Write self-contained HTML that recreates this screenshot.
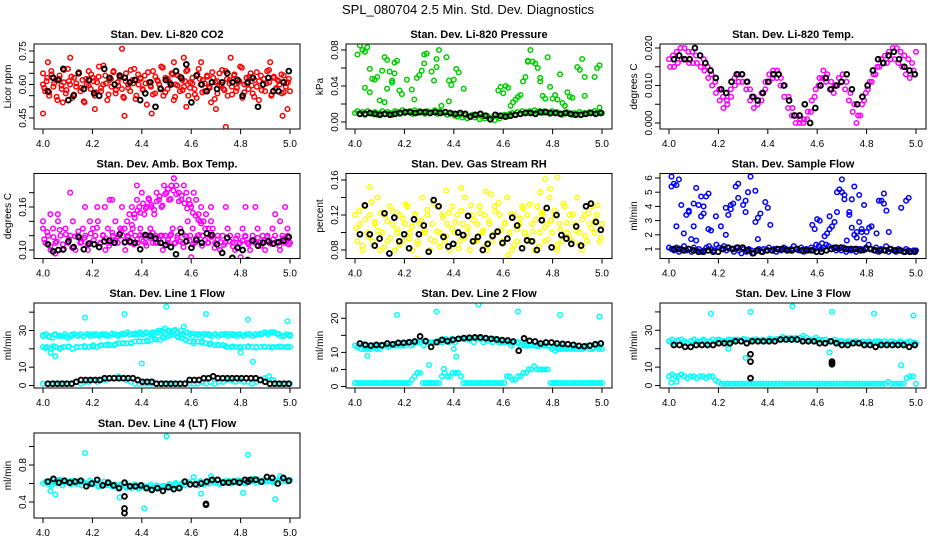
<!DOCTYPE html>
<html><head><meta charset="utf-8">
<style>
html,body{margin:0;padding:0;background:#fff;}
svg{display:block;font-family:"Liberation Sans",Arial,sans-serif;}
</style></head>
<body>
<svg id="chart" width="936" height="540" viewBox="0 0 936 540">
<text x="468" y="14" text-anchor="middle" font-size="13">SPL_080704  2.5 Min. Std. Dev. Diagnostics</text>
</svg>
<script>
// ---------- data ----------
const xTicks = [4.0,4.2,4.4,4.6,4.8,5.0];
const xTickLabels = ["4.0","4.2","4.4","4.6","4.8","5.0"];

const co2Red = [0.60,0.57,0.63,0.55,0.66,0.59,0.62,0.53,0.64,0.58,0.61,0.56,0.67,0.60,0.54,0.63,0.59,0.65,0.57,0.62,0.52,0.60,0.66,0.58,0.63,0.55,0.61,0.68,0.57,0.60,0.64,0.53,0.62,0.59,0.66,0.56,0.61,0.63,0.58,0.54,0.65,0.60,0.57,0.62,0.67,0.55,0.60,0.63,0.58,0.64,0.51,0.61,0.59,0.66,0.56,0.62,0.60,0.68,0.55,0.63,0.58,0.61,0.65,0.53,0.60,0.64,0.57,0.62,0.59,0.66,0.55,0.61,0.63,0.58,0.54,0.67,0.60,0.62,0.57,0.64,0.59,0.52,0.63,0.61,0.56,0.65,0.60,0.58,0.66,0.55,0.62,0.59,0.64,0.57,0.61,0.68,0.54,0.60,0.63,0.58,0.65,0.56,0.62,0.59,0.53,0.64,0.60,0.57,0.66,0.61,0.55,0.63,0.58,0.62,0.60,0.56,0.64,0.59,0.61,0.57];
const co2Red2 = [0.585,0.615,0.565,0.645,0.605,0.545,0.625,0.595,0.665,0.575,0.615,0.635,0.555,0.605,0.655,0.585,0.525,0.625,0.595,0.645,0.615,0.565,0.635,0.585,0.685,0.605,0.555,0.625,0.655,0.575,0.595,0.635,0.545,0.615,0.585,0.665,0.605,0.535,0.645,0.625,0.575,0.605,0.655,0.595,0.555,0.635,0.615,0.585,0.675,0.565,0.625,0.605,0.645,0.545,0.595,0.635,0.575,0.615,0.665,0.585,0.605,0.555,0.645,0.625,0.565,0.605,0.635,0.585,0.655,0.535,0.615,0.595,0.665,0.575,0.625,0.605,0.555,0.645,0.585,0.615,0.675,0.565,0.605,0.635,0.595,0.545,0.655,0.615,0.575,0.625,0.605,0.665,0.555,0.635,0.585,0.615,0.645,0.565,0.605,0.625];
const co2RedOut = [[4.32,0.76],[4.11,0.72],[4.57,0.72],[4.76,0.72],[4.74,0.41],[4.00,0.47],[4.44,0.47],[4.33,0.46],[4.97,0.46],[4.99,0.49],[4.70,0.49],[4.21,0.49],[4.02,0.70],[4.64,0.70],[4.92,0.70],[4.53,0.70],[4.00,0.65],[4.58,0.50],[4.08,0.52]];
const co2Black = [0.57,0.63,0.62,0.67,0.53,0.55,0.65,0.58,0.62,0.56,0.55,0.67,0.63,0.60,0.64,0.63,0.61,0.62,0.53,0.56,0.61,0.50,0.58,0.62,0.60,0.66,0.63,0.69,0.52,0.64,0.60,0.57,0.61,0.58,0.61,0.65,0.61,0.62,0.55,0.61,0.63,0.50,0.60,0.63,0.57,0.57,0.61,0.66];

const presGreen = [0.010,0.012,0.009,0.011,0.008,0.012,0.010,0.009,0.011,0.008,0.010,0.012,0.009,0.011,0.010,0.008,0.012,0.011,0.009,0.013,0.010,0.011,0.012,0.009,0.013,0.010,0.012,0.011,0.009,0.012,0.010,0.011,0.013,0.009,0.012,0.010,0.011,0.008,0.010,0.009,0.007,0.006,0.008,0.005,0.007,0.004,0.006,0.008,0.005,0.007,0.003,0.006,0.004,0.007,0.003,0.005,0.002,0.006,0.004,0.007,0.008,0.006,0.009,0.010,0.008,0.011,0.009,0.012,0.010,0.011,0.012,0.010,0.013,0.011,0.012,0.010,0.012,0.011,0.009,0.012,0.010,0.011,0.009,0.008,0.010,0.011,0.009,0.008,0.010,0.009,0.011,0.008,0.010,0.009,0.011,0.010,0.012,0.010,0.011,0.010];
const presHigh = [[4.01,0.075],[4.02,0.085],[4.03,0.080],[4.04,0.078],[4.05,0.083],[4.06,0.059],[4.07,0.048],[4.08,0.047],[4.09,0.050],[4.04,0.038],[4.06,0.033],[4.10,0.024],[4.11,0.057],[4.12,0.022],[4.13,0.037],[4.12,0.072],[4.13,0.069],[4.14,0.056],[4.15,0.046],[4.15,0.044],[4.16,0.054],[4.16,0.066],[4.17,0.068],[4.18,0.035],[4.19,0.031],[4.21,0.047],[4.23,0.036],[4.24,0.025],[4.25,0.049],[4.26,0.052],[4.27,0.057],[4.28,0.075],[4.29,0.076],[4.28,0.065],[4.31,0.056],[4.32,0.046],[4.33,0.061],[4.33,0.070],[4.34,0.080],[4.35,0.018],[4.37,0.072],[4.38,0.046],[4.38,0.023],[4.39,0.041],[4.40,0.047],[4.41,0.059],[4.42,0.055],[4.44,0.037],[4.58,0.035],[4.59,0.039],[4.60,0.032],[4.61,0.040],[4.62,0.038],[4.63,0.018],[4.64,0.022],[4.65,0.025],[4.66,0.028],[4.67,0.030],[4.68,0.045],[4.69,0.050],[4.70,0.067],[4.70,0.068],[4.71,0.080],[4.72,0.067],[4.73,0.065],[4.74,0.060],[4.75,0.049],[4.75,0.045],[4.76,0.029],[4.77,0.026],[4.78,0.072],[4.79,0.039],[4.80,0.026],[4.81,0.030],[4.82,0.025],[4.83,0.053],[4.84,0.021],[4.85,0.018],[4.86,0.033],[4.87,0.028],[4.88,0.027],[4.90,0.061],[4.91,0.058],[4.92,0.070],[4.93,0.050],[4.93,0.029],[4.97,0.050],[4.98,0.060],[4.99,0.063],[4.99,0.016]];
const presBlack = [0.009,0.009,0.010,0.009,0.008,0.009,0.008,0.009,0.010,0.011,0.011,0.010,0.011,0.011,0.010,0.011,0.010,0.011,0.010,0.009,0.010,0.009,0.006,0.008,0.009,0.007,0.003,0.008,0.007,0.006,0.007,0.008,0.009,0.010,0.010,0.009,0.011,0.011,0.010,0.010,0.009,0.010,0.009,0.008,0.008,0.009,0.010,0.009,0.010];

const tempMagHi = [0.017,0.018,0.019,0.020,0.020,0.019,0.019,0.018,0.018,0.017,0.015,0.013,0.011,0.009,0.007,0.006,0.009,0.012,0.013,0.013,0.011,0.009,0.007,0.006,0.008,0.011,0.013,0.014,0.014,0.012,0.010,0.007,0.004,0.002,0.001,0.001,0.003,0.006,0.009,0.012,0.014,0.013,0.011,0.010,0.012,0.013,0.011,0.008,0.005,0.002,0.005,0.008,0.011,0.013,0.015,0.017,0.018,0.019,0.020,0.020,0.019,0.018,0.017,0.016,0.019];
const tempMagLo = [0.015,0.015,0.016,0.017,0.017,0.016,0.016,0.016,0.015,0.014,0.012,0.010,0.008,0.006,0.004,0.005,0.007,0.010,0.011,0.011,0.009,0.006,0.004,0.005,0.006,0.009,0.011,0.012,0.012,0.010,0.007,0.004,0.002,0.000,0.000,0.000,0.001,0.003,0.007,0.010,0.012,0.011,0.009,0.008,0.010,0.011,0.009,0.006,0.003,0.000,0.002,0.006,0.009,0.011,0.013,0.015,0.016,0.016,0.017,0.017,0.016,0.015,0.013,0.012,0.014];
const tempBlack = [0.017,0.018,0.017,0.017,0.020,0.018,0.016,0.014,0.012,0.009,0.008,0.011,0.013,0.013,0.011,0.007,0.006,0.008,0.011,0.013,0.013,0.010,0.006,0.002,0.002,0.005,0.000,0.004,0.010,0.012,0.009,0.010,0.011,0.013,0.009,0.005,0.007,0.010,0.014,0.017,0.016,0.018,0.019,0.017,0.015,0.014,0.013];

const ambMag = [0.13,0.11,0.12,0.10,0.13,0.11,0.14,0.12,0.10,0.13,0.11,0.12,0.14,0.10,0.12,0.11,0.13,0.12,0.10,0.11,0.13,0.12,0.14,0.11,0.12,0.10,0.13,0.11,0.12,0.14,0.11,0.13,0.12,0.10,0.12,0.11,0.13,0.12,0.11,0.13,0.12,0.11,0.12,0.13,0.11,0.12,0.11,0.12,0.10,0.12,0.11,0.12,0.13,0.11,0.12,0.13,0.11,0.12,0.14,0.12,0.13,0.11,0.12,0.14,0.12,0.13,0.11,0.12,0.13,0.11,0.12,0.10,0.12,0.11,0.13,0.12,0.11,0.10,0.12,0.11,0.13,0.12,0.11,0.10,0.12,0.11,0.13,0.11,0.12,0.10,0.12,0.11,0.13,0.12,0.11,0.10,0.12,0.11,0.12,0.11];
const ambMag2 = [0.115,0.125,0.105,0.118,0.112,0.128,0.108,0.122,0.115,0.103,0.119,0.126,0.111,0.117,0.107,0.123,0.114,0.131,0.109,0.121,0.116,0.106,0.124,0.113,0.119,0.127,0.110,0.118,0.123,0.108,0.115,0.121,0.112,0.106,0.117,0.124,0.110,0.115,0.120,0.107,0.114,0.122,0.109,0.117,0.112,0.104,0.119,0.113,0.108,0.116,0.121,0.106,0.114,0.110,0.118,0.103,0.115,0.111,0.107,0.117,0.112,0.105,0.116,0.109,0.113,0.119,0.108,0.114,0.111,0.117,0.106,0.113,0.118,0.109,0.115,0.111,0.106,0.116,0.112,0.108];
const ambHump = [0.13,0.14,0.15,0.16,0.15,0.17,0.16,0.18,0.15,0.16,0.17,0.16,0.15,0.18,0.17,0.16,0.19,0.18,0.17,0.19,0.20,0.19,0.18,0.17,0.19,0.18,0.17,0.16,0.18,0.17,0.15,0.16,0.14,0.15,0.13,0.14];
const ambHump2 = [0.135,0.145,0.155,0.152,0.165,0.158,0.172,0.163,0.156,0.168,0.175,0.162,0.178,0.185,0.171,0.183,0.178,0.168,0.176,0.165,0.158,0.164,0.152,0.148,0.142,0.137];
const ambOut = [[4.00,0.14],[4.03,0.15],[4.06,0.15],[4.11,0.18],[4.17,0.16],[4.19,0.14],[4.22,0.16],[4.25,0.16],[4.27,0.17],[4.28,0.17],[4.32,0.16],[4.38,0.19],[4.57,0.21],[4.53,0.20],[4.60,0.09],[4.68,0.16],[4.74,0.16],[4.82,0.16],[4.86,0.16],[4.94,0.15],[4.96,0.14],[4.98,0.16],[4.99,0.13],[4.80,0.09],[4.05,0.095]];
const ambBlack = [0.108,0.098,0.100,0.101,0.112,0.104,0.118,0.101,0.109,0.108,0.104,0.112,0.113,0.110,0.122,0.111,0.112,0.110,0.101,0.121,0.120,0.116,0.110,0.107,0.104,0.094,0.125,0.112,0.103,0.114,0.110,0.123,0.121,0.108,0.096,0.117,0.089,0.103,0.100,0.086,0.113,0.106,0.110,0.112,0.109,0.111,0.113,0.118];

const rhYellow = [0.12,0.09,0.11,0.08,0.13,0.10,0.12,0.09,0.11,0.14,0.08,0.10,0.12,0.09,0.13,0.11,0.08,0.10,0.12,0.09,0.11,0.13,0.10,0.08,0.12,0.09,0.11,0.14,0.10,0.12,0.08,0.11,0.09,0.13,0.10,0.12,0.09,0.11,0.08,0.13,0.10,0.12,0.09,0.11,0.14,0.10,0.08,0.12,0.09,0.11,0.13,0.10,0.12,0.08,0.11,0.09,0.13,0.10,0.12,0.09,0.11,0.14,0.10,0.08,0.12,0.09,0.11,0.13,0.10,0.12,0.09,0.11,0.08,0.13,0.10,0.12,0.09,0.11,0.14,0.10,0.12,0.08,0.11,0.09,0.13,0.10,0.12,0.09,0.11,0.14,0.10,0.08,0.12,0.09,0.11,0.13,0.10,0.12,0.09,0.11];
const rhYellow2 = [0.105,0.125,0.085,0.115,0.095,0.135,0.112,0.102,0.122,0.083,0.113,0.094,0.124,0.104,0.086,0.116,0.132,0.093,0.107,0.121,0.087,0.114,0.103,0.126,0.092,0.133,0.101,0.084,0.117,0.096,0.123,0.105,0.112,0.082,0.125,0.094,0.106,0.131,0.114,0.091,0.122,0.102,0.085,0.113,0.097,0.124,0.134,0.103,0.111,0.093,0.121,0.086,0.104,0.116,0.127,0.095,0.132,0.101,0.115,0.084,0.123,0.106,0.092,0.114,0.125,0.086,0.103,0.133,0.111,0.094,0.121,0.102,0.087,0.115,0.096,0.122,0.105,0.113,0.131,0.094];
const rhOut = [[4.06,0.152],[4.43,0.151],[4.37,0.148],[4.53,0.147],[4.55,0.144],[4.77,0.161],[4.82,0.163],[4.79,0.150],[4.75,0.146],[4.55,0.067],[4.25,0.070],[4.62,0.074]];
const rhBlack = [0.098,0.131,0.098,0.085,0.093,0.122,0.076,0.117,0.090,0.098,0.082,0.115,0.098,0.108,0.078,0.137,0.130,0.095,0.084,0.087,0.100,0.097,0.119,0.090,0.095,0.080,0.087,0.096,0.101,0.088,0.093,0.117,0.108,0.082,0.091,0.090,0.080,0.114,0.128,0.083,0.120,0.097,0.093,0.087,0.107,0.085,0.130,0.133,0.112,0.103];

const sfBlue = [1.1,1.0,0.9,1.1,0.8,1.0,1.2,0.9,1.0,0.8,1.1,0.9,1.0,0.8,0.9,1.1,1.2,1.0,0.9,1.3,1.1,1.0,1.2,0.9,1.1,1.0,0.8,1.1,0.9,0.7,1.0,0.8,1.0,0.9,0.7,0.9,1.0,0.8,1.0,0.9,1.1,0.9,1.0,0.8,1.0,0.9,1.1,1.0,0.9,1.0,1.2,1.0,0.9,1.1,0.8,1.0,0.9,1.1,0.9,1.3,1.2,1.0,1.1,1.3,1.2,1.0,1.1,0.9,1.0,0.9,1.1,0.8,1.0,0.9,1.0,0.8,1.0,1.0,0.9,1.1,1.3,1.0,0.9,1.1,0.8,1.0,0.9,1.2,0.8,1.0,0.9,0.8,1.0,0.9,0.8,1.0,0.9,0.8,0.9,0.9];
const sfHigh = [[4.01,5.4],[4.01,6.1],[4.02,5.6],[4.03,5.5],[4.04,5.9],[4.05,4.1],[4.03,2.6],[4.06,2.1],[4.07,3.4],[4.08,3.6],[4.08,3.7],[4.09,1.7],[4.10,4.2],[4.10,2.6],[4.11,1.6],[4.11,5.3],[4.12,4.1],[4.13,4.7],[4.13,3.3],[4.14,3.5],[4.14,4.0],[4.15,4.7],[4.16,4.9],[4.16,2.4],[4.17,2.3],[4.19,3.3],[4.21,2.6],[4.23,2.0],[4.23,3.9],[4.24,3.4],[4.25,4.1],[4.25,3.8],[4.26,4.2],[4.27,5.4],[4.28,5.6],[4.28,4.6],[4.30,4.1],[4.31,4.4],[4.31,3.6],[4.32,5.0],[4.33,6.1],[4.35,5.1],[4.35,2.9],[4.36,1.7],[4.36,3.2],[4.37,3.5],[4.39,4.3],[4.40,3.9],[4.41,2.7],[4.58,2.7],[4.59,2.4],[4.60,3.1],[4.61,3.0],[4.62,1.4],[4.63,1.9],[4.64,2.1],[4.65,2.4],[4.65,3.3],[4.66,2.6],[4.67,2.9],[4.68,3.6],[4.68,5.0],[4.69,5.2],[4.70,5.9],[4.70,5.0],[4.71,4.5],[4.71,4.8],[4.72,1.6],[4.73,3.6],[4.73,3.4],[4.74,2.5],[4.74,4.5],[4.75,2.0],[4.75,5.4],[4.76,1.8],[4.76,2.2],[4.77,4.8],[4.77,2.9],[4.78,2.2],[4.78,2.4],[4.79,4.1],[4.79,1.7],[4.80,2.2],[4.81,2.5],[4.82,2.6],[4.84,2.1],[4.85,4.4],[4.86,4.4],[4.87,4.2],[4.87,4.9],[4.88,3.7],[4.89,2.2],[4.94,3.9],[4.96,4.4],[4.97,4.6]];
const sfBlack = [1.0,1.0,0.9,1.0,0.9,0.8,0.8,0.9,0.8,0.8,1.0,1.1,1.0,1.1,1.1,0.9,0.7,0.9,0.8,0.9,0.9,1.0,1.0,0.9,0.9,1.0,0.9,0.9,0.9,0.8,0.8,0.9,1.0,1.1,1.1,1.0,1.0,1.0,0.9,1.0,1.0,0.9,0.9,0.9,1.0,0.9,0.9,0.8,0.8,0.8];

const l1BandA = [27,28,27,26,28,27,27,28,26,27,28,27,28,27,28,27,28,28,27,28,28,27,28,28,27,28,28,29,28,28,28,29,28,29,28,29,29,30,30,31,30,29,30,29,28,28,29,28,27,28,28,27,28,28,27,28,27,28,28,27,28,28,27,28,27,28,28,27,28,28,28,29,28,29,29,28,27,27,28,27];
const l1BandA2 = [27.5,26.5,27.8,27.2,26.6,27.7,27.4,26.8,27.9,27.3,27.6,27.1,28.3,27.6,28.2,27.8,28.4,28.1,28.6,28.2,28.7,29.2,29.8,30.4,29.6,28.8,28.4,27.6,28.1,27.4,27.9,27.6,28.2,27.5,27.9,27.3,28.1,27.6,28.3,28.6,28.9,28.2,27.4,27.6];
const l1BandB = [21,21,20,21,20,21,21,20,21,21,21,21,22,21,22,22,22,22,23,23,23,23,24,24,24,24,25,25,25,26,27,28,27,26,25,24,23,24,24,23,23,22,22,22,21,21,21,21,21,21,21,21,21,21,21,21,21,21,21,21];
const l1BandB2 = [20.5,21.4,20.6,21.3,20.8,21.5,21.2,21.8,22.4,22.6,23.2,23.5,24.2,24.6,25.4,26.3,27.4,26.2,24.8,24.1,23.4,22.6,22.1,21.6,21.3,20.8,21.4,20.7,21.2,20.6,21.3,20.9];
const l1BandC = [1,1,1,1,1,1,1,1,2,1,2,2,3,2,3,3,4,4,5,4,3,2,1,1,1,1,1,1,1,1,1,1,1,1,1,1,1,1,2,1,2,1,2,2,3,3,2,3,2,2,1,2,3,4,5,3,1,1,1,1];
const l1Out = [[4.17,37],[4.33,39],[4.50,43],[4.66,39],[4.83,36],[4.99,35],[4.40,12],[4.85,13],[4.03,18],[4.05,16],[4.80,18],[4.57,32]];
const l1Black = [1,1,1,1,1,1,2,3,3,3,3,3,4,4,4,4,4,4,4,3,2,2,2,1,1,1,1,1,1,1,3,3,3,4,4,5,4,4,4,4,4,4,4,4,4,3,2,1,1,1,1,1];

const l2Band = [12,12,11,11,11,11,12,11,11,12,12,12,12,12,12,12,12,13,12,13,13,13,12,13,13,13,13,13,13,14,13,14,13,14,14,14,14,14,13,14,14,13,14,14,13,14,13,13,13,13,12,13,13,12,12,12,12,12,12,12,12,12,12,11,12,11,11,11,11,11,11,11,11,11,12,11,11,12,11,11];
const l2Band2 = [11.5,12.4,11.3,11.7,12.2,11.6,12.5,12.1,12.7,12.4,12.9,13.3,12.8,13.4,13.6,13.2,13.8,14.1,13.7,14.3,13.9,13.5,13.8,13.3,13.1,12.6,12.9,12.4,12.2,11.8,12.1,11.6,11.4,11.8,11.3,11.6,11.2,11.7,11.4,11.8];
const l2Low = [1,1,1,1,1,1,1,1,1,1,1,1,1,1,1,1,1,1,1,1,1,2,3,4,4,1,1,1,1,1,1,1,3,4,3,3,4,4,4,3,1,1,1,1,1,1,1,1,1,1,1,1,1,1,1,1,3,3,2,2,3,3,4,4,5,5,6,5,5,5,5,5,1,1,1,1,1,1,1,1,1,1,1,1,1,1,1,1,1,1,1,1];
const l2Out = [[4.17,21],[4.33,22],[4.50,24],[4.66,22],[4.83,21],[4.99,20.5],[4.05,9],[4.40,11],[4.41,8.8],[4.30,6.3],[4.36,5.2],[4.81,10.5]];
const l2Black = [12.6,12.2,12.0,12.2,12.1,12.6,12.4,12.8,12.8,13.0,13.2,14.7,13.3,11.6,13.0,13.7,13.3,13.7,14.0,14.2,14.3,14.4,14.4,14.2,14.0,13.8,13.6,13.5,13.2,10.5,14.1,13.4,13.2,12.6,12.9,12.9,12.6,12.5,12.4,12.2,11.9,11.8,12.0,12.4,12.6];

const l3Band = [24,25,23,24,25,24,23,24,25,24,24,25,23,24,25,24,25,24,24,25,24,25,25,24,25,25,24,25,25,24,25,24,25,25,24,25,25,26,25,26,25,25,26,27,26,25,25,26,25,24,25,24,24,25,24,24,23,24,24,23,24,23,24,23,24,23,24,24,23,24,23,24,23,23,24,23,23,24,23,23];
const l3Band2 = [23.5,24.6,23.4,24.3,23.7,24.5,23.8,24.7,24.2,24.9,24.4,25.3,24.6,25.1,24.8,25.5,25.2,26.4,25.6,25.8,25.1,24.7,24.3,24.8,24.1,23.6,24.2,23.5,24.1,23.4,23.8,23.2,23.7,23.3,23.6,23.1,23.5,23.4];
const l3Low = [5,6,5,5,6,5,4,5,5,4,5,5,4,5,5,3,2,1,1,1,1,1,1,1,1,1,1,1,1,1,1,1,1,1,1,1,1,1,1,1,1,1,1,1,1,1,1,1,1,1,1,1,1,1,1,1,1,1,1,1,1,1,1,1,1,1,1,1,1,1,1,2,1,1,1,1,1,4,5,5,1];
const l3Out = [[4.17,39],[4.33,40],[4.50,43],[4.66,40],[4.83,39],[4.99,38],[4.24,20],[4.31,15],[4.65,18],[4.94,11],[4.01,1.5],[4.03,2]];
const l3Black = [22,22,21,21,22,22,22,22,23,23,23,24,24,23,24,24,24,24,24,25,25,25,25,24,24,24,23,23,24,23,22,22,23,23,22,22,21,22,22,22,22,22,21,22];
const l3BlackOut = [[4.33,17],[4.33,13],[4.33,4],[4.66,12],[4.66,13],[4.66,11.5]];

const l4Cyan = [0.60,0.62,0.59,0.63,0.61,0.60,0.64,0.58,0.62,0.61,0.59,0.63,0.60,0.62,0.58,0.61,0.60,0.63,0.59,0.61,0.57,0.60,0.62,0.58,0.60,0.57,0.59,0.56,0.58,0.60,0.57,0.58,0.55,0.59,0.57,0.56,0.58,0.55,0.57,0.54,0.56,0.58,0.55,0.57,0.55,0.58,0.56,0.57,0.59,0.57,0.60,0.58,0.61,0.59,0.62,0.60,0.58,0.61,0.59,0.62,0.60,0.63,0.61,0.64,0.60,0.62,0.61,0.63,0.60,0.62,0.61,0.63,0.62,0.60,0.64,0.62,0.65,0.61,0.63,0.62,0.64,0.62,0.63,0.61,0.63,0.64,0.62,0.65,0.62,0.64];
const l4Cyan2 = [0.615,0.585,0.635,0.605,0.625,0.595,0.615,0.585,0.605,0.575,0.595,0.565,0.585,0.555,0.575,0.545,0.565,0.585,0.555,0.575,0.595,0.605,0.585,0.615,0.595,0.625,0.605,0.615,0.595,0.625,0.615,0.635,0.605,0.625,0.645,0.615,0.635,0.625,0.645,0.625];
const l4Out = [[4.17,0.93],[4.50,1.11],[4.83,0.91],[4.05,0.48],[4.03,0.52],[4.31,0.45],[4.41,0.33],[4.64,0.49],[4.81,0.50],[4.94,0.43],[4.68,0.68],[4.96,0.68],[4.61,0.67]];
const l4Black = [0.62,0.65,0.61,0.63,0.61,0.62,0.63,0.57,0.60,0.64,0.58,0.61,0.58,0.55,0.61,0.57,0.57,0.58,0.55,0.53,0.55,0.52,0.56,0.54,0.55,0.62,0.59,0.59,0.60,0.62,0.64,0.64,0.61,0.61,0.62,0.61,0.64,0.64,0.64,0.62,0.67,0.66,0.60,0.66,0.63];
const l4BlackOut = [[4.33,0.46],[4.33,0.33],[4.33,0.28],[4.66,0.38],[4.66,0.37],[4.83,0.62]];

// ---------- layout ----------
const NS = "http://www.w3.org/2000/svg";
const svg = document.getElementById("chart");
const colLeft = [34, 346, 660];
const rowTop = [44, 173.5, 303, 433];
const boxW = 266, boxH = 85;

function el(tag, attrs, parent){
  const e = document.createElementNS(NS, tag);
  for (const k in attrs) e.setAttribute(k, attrs[k]);
  (parent || svg).appendChild(e);
  return e;
}

const panels = [
 {id:"co2",title:"Stan. Dev. Li-820 CO2",ylab:"Licor ppm",col:0,row:0,y0:0.45,p0:118,y1:0.75,p1:51,
  ticks:[0.45,0.50,0.55,0.60,0.65,0.70,0.75],labels:{"0.45":"0.45","0.6":"0.60","0.75":"0.75"},
  series:[{c:"#ff0000",ys:co2Red},{c:"#ff0000",ys:co2Red2,x0:4.005,x1:4.995},{c:"#ff0000",pts:co2RedOut},{c:"#000",ys:co2Black,x0:4.02,x1:4.995,b:1}]},
 {id:"pressure",title:"Stan. Dev. Li-820 Pressure",ylab:"kPa",col:1,row:0,y0:0,p0:122,y1:0.08,p1:50,
  ticks:[0,0.02,0.04,0.06,0.08],labels:{"0":"0.00","0.04":"0.04","0.08":"0.08"},
  series:[{c:"#00cc00",ys:presGreen},{c:"#00cc00",pts:presHigh},{c:"#000",ys:presBlack,x0:4.02,x1:4.995,b:1}]},
 {id:"temp",title:"Stan. Dev. Li-820 Temp.",ylab:"degrees C",col:2,row:0,y0:0,p0:123,y1:0.02,p1:48,
  ticks:[0,0.005,0.01,0.015,0.02],labels:{"0":"0.000","0.01":"0.010","0.02":"0.020"},
  series:[{c:"#ff00ff",ys:tempMagHi},{c:"#ff00ff",ys:tempMagLo,x0:4.005,x1:4.99},{c:"#000",ys:tempBlack,x0:4.02,x1:4.995,b:1}]},
 {id:"ambtemp",title:"Stan. Dev. Amb. Box Temp.",ylab:"degrees C",col:0,row:1,y0:0.10,p0:250,y1:0.16,p1:207,
  ticks:[0.10,0.12,0.14,0.16,0.18],labels:{"0.1":"0.10","0.16":"0.16"},
  series:[{c:"#ff00ff",ys:ambMag},{c:"#ff00ff",ys:ambMag2,x0:4.005,x1:4.995},{c:"#ff00ff",ys:ambHump,x0:4.33,x1:4.68},{c:"#ff00ff",ys:ambHump2,x0:4.36,x1:4.64},{c:"#ff00ff",pts:ambOut},{c:"#000",ys:ambBlack,x0:4.02,x1:4.995,b:1}]},
 {id:"rh",title:"Stan. Dev. Gas Stream RH",ylab:"percent",col:1,row:1,y0:0.08,p0:250,y1:0.16,p1:180,
  ticks:[0.08,0.10,0.12,0.14,0.16],labels:{"0.08":"0.08","0.12":"0.12","0.16":"0.16"},
  series:[{c:"#ffff00",ys:rhYellow},{c:"#ffff00",ys:rhYellow2,x0:4.005,x1:4.995},{c:"#ffff00",pts:rhOut},{c:"#000",ys:rhBlack,x0:4.02,x1:4.995,b:1}]},
 {id:"sampleflow",title:"Stan. Dev. Sample Flow",ylab:"ml/min",col:2,row:1,y0:1,p0:249,y1:6,p1:178,
  ticks:[1,2,3,4,5,6],labels:{"1":"1","2":"2","3":"3","4":"4","5":"5","6":"6"},
  series:[{c:"#0000ff",ys:sfBlue},{c:"#0000ff",pts:sfHigh},{c:"#000",ys:sfBlack,x0:4.02,x1:4.995,b:1}]},
 {id:"line1",title:"Stan. Dev. Line 1 Flow",ylab:"ml/min",col:0,row:2,y0:0,p0:385.5,y1:30,p1:330.5,
  ticks:[0,10,20,30,40],labels:{"0":"0","10":"10","30":"30"},
  series:[{c:"#00ffff",ys:l1BandA},{c:"#00ffff",ys:l1BandA2},{c:"#00ffff",ys:l1BandB},{c:"#00ffff",ys:l1BandB2,x0:4.01,x1:4.99},{c:"#00ffff",ys:l1BandC},{c:"#00ffff",pts:l1Out},{c:"#000",ys:l1Black,x0:4.02,x1:4.995,b:1}]},
 {id:"line2",title:"Stan. Dev. Line 2 Flow",ylab:"ml/min",col:1,row:2,y0:0,p0:386.5,y1:20,p1:318.3,
  ticks:[0,5,10,15,20],labels:{"0":"0","5":"5","10":"10","20":"20"},
  series:[{c:"#00ffff",ys:l2Band},{c:"#00ffff",ys:l2Band2,x0:4.01,x1:4.99},{c:"#00ffff",ys:l2Low},{c:"#00ffff",pts:l2Out},{c:"#000",ys:l2Black,x0:4.02,x1:4.995,b:1}]},
 {id:"line3",title:"Stan. Dev. Line 3 Flow",ylab:"ml/min",col:2,row:2,y0:0,p0:385.5,y1:30,p1:330.3,
  ticks:[0,10,20,30,40],labels:{"0":"0","10":"10","30":"30"},
  series:[{c:"#00ffff",ys:l3Band},{c:"#00ffff",ys:l3Band2,x0:4.01,x1:4.99},{c:"#00ffff",ys:l3Low},{c:"#00ffff",pts:l3Out},{c:"#000",ys:l3Black,x0:4.02,x1:4.995,b:1},{c:"#000",pts:l3BlackOut,b:1}]},
 {id:"line4",title:"Stan. Dev. Line 4 (LT) Flow",ylab:"ml/min",col:0,row:3,y0:0.4,p0:502,y1:0.8,p1:465,
  ticks:[0.4,0.6,0.8,1.0],labels:{"0.4":"0.4","0.8":"0.8"},
  series:[{c:"#00ffff",ys:l4Cyan},{c:"#00ffff",ys:l4Cyan2,x0:4.01,x1:4.99},{c:"#00ffff",pts:l4Out},{c:"#000",ys:l4Black,x0:4.02,x1:4.995,b:1},{c:"#000",pts:l4BlackOut,b:1}]}
];

panels.forEach(p => {
  const L = colLeft[p.col], T = rowTop[p.row];
  const xs = x => L + 9 + (x - 4) * 247;
  const ys = v => p.p0 + (v - p.y0) * (p.p1 - p.p0) / (p.y1 - p.y0);
  const g = el("g", {});
  
  
  const clipId = "clip-" + p.id;
  const cp = el("clipPath", {id: clipId}, g);
  el("rect", {x: L, y: T, width: boxW, height: boxH}, cp);

  const t = el("text", {x: L + boxW/2, y: T - 6, "text-anchor": "middle", "font-size": "11", "font-weight": "bold"}, g);
  t.textContent = p.title;
  
  

  const pg = el("g", {"clip-path": "url(#" + clipId + ")", fill: "none"}, g);
  
  
  p.series.forEach(s => {
    const pts = [];
    if (s.ys) {
      const a = s.x0 !== undefined ? s.x0 : 4.0, b = s.x1 !== undefined ? s.x1 : 5.0;
      const n = s.ys.length;
      s.ys.forEach((v, i) => pts.push([a + (b - a) * i / (n - 1), v]));
    } else {
      s.pts.forEach(q => pts.push(q));
    }
    pts.forEach(q => {
      const c = el("circle", {cx: xs(q[0]).toFixed(1), cy: ys(q[1]).toFixed(1), r: s.b ? 2.4 : 2.3, stroke: s.c, "stroke-width": s.b ? 1.9 : 1.5}, pg);
      
      
    });
  });

  const box = el("rect", {x: L, y: T, width: boxW, height: boxH, fill: "none", stroke: "#000", "stroke-width": 1}, g);
  
  

  const xa = el("g", {}, g);
  
  
  el("line", {x1: xs(4), x2: xs(5), y1: T + boxH, y2: T + boxH, stroke: "#000"}, xa);
  xTicks.forEach((v, i) => {
    el("line", {x1: xs(v), x2: xs(v), y1: T + boxH, y2: T + boxH + 5, stroke: "#000"}, xa);
    const tl = el("text", {x: xs(v), y: T + boxH + 18, "text-anchor": "middle", "font-size": "10"}, xa);
    tl.textContent = xTickLabels[i];
    
    
  });
  const ya = el("g", {}, g);
  
  
  const visT = p.ticks.filter(v => ys(v) >= T - 0.5);
  el("line", {x1: L, x2: L, y1: ys(visT[0]), y2: ys(visT[visT.length-1]), stroke: "#000"}, ya);
  p.ticks.forEach(v => {
    const py = ys(v);
    if (py < T - 0.5) return;
    el("line", {x1: L - 5, x2: L, y1: py, y2: py, stroke: "#000"}, ya);
    const key = String(+v.toFixed(4));
    if (p.labels[key] !== undefined) {
      const tl = el("text", {x: 0, y: 0, "text-anchor": "middle", "font-size": "10", transform: "translate(" + (L - 8) + "," + py + ") rotate(-90)"}, ya);
      tl.textContent = p.labels[key];
      
      
    }
  });
  const yl = el("text", {x: 0, y: 0, "text-anchor": "middle", "font-size": "10", transform: "translate(" + (L - 23) + "," + (T + boxH/2) + ") rotate(-90)"}, g);
  yl.textContent = p.ylab;
  
  
});
</script>
</body></html>
